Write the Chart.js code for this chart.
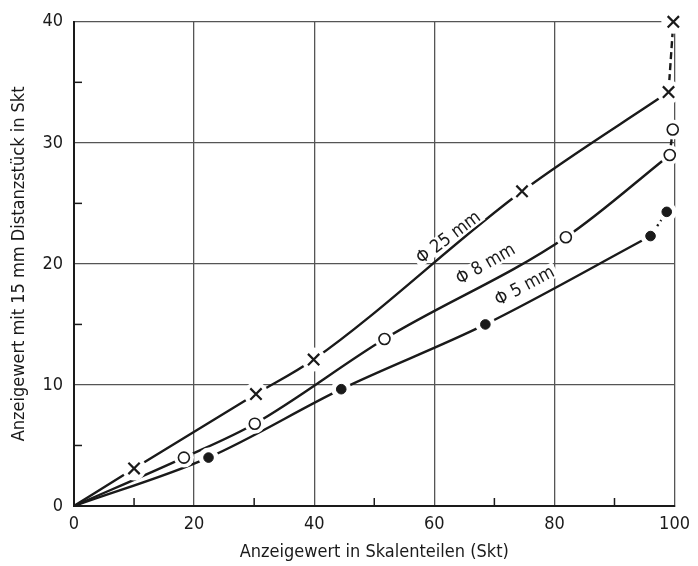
<!DOCTYPE html>
<html>
<head>
<meta charset="utf-8">
<script src="https://cdn.jsdelivr.net/npm/chart.js@4.4.0/dist/chart.umd.min.js"></script>
<style>
html, body { margin: 0; padding: 0; background: #fff; }
</style>
</head>
<body>
<canvas id="c" width="698" height="566"></canvas>
<script>
// measured points (Skt)
var x25 = [10, 30.3, 39.9, 74.6, 99.0, 99.8];
var y25 = [3.1, 9.25, 12.1, 26.0, 34.2, 40.0];
var x8 = [18.3, 30.1, 51.7, 81.9, 99.2, 99.7];
var y8 = [4.0, 6.8, 13.8, 22.2, 29.0, 31.1];
var x5 = [22.4, 44.5, 68.5, 96.0, 98.7];
var y5 = [4.0, 9.65, 15.0, 22.3, 24.3];

var seriesNames = ['\u03A6 25 mm', '\u03A6 8 mm', '\u03A6 5 mm'];
var xTicks = [0, 20, 40, 60, 80, 100];
var yTicks = [0, 10, 20, 30, 40];
var xMinor = [10, 30, 50, 70, 90];
var yMinor = [5, 15, 25, 35];

var fontFam = "'Liberation Sans Narrow', 'DejaVu Sans Condensed', sans-serif";
var ink = '#1a1a1a';

function pts(xs, ys) {
	return xs.map(function(x, i){ return {x: x, y: ys[i]}; });
}
// curve from the origin through the first n points
function curve(xs, ys, n) {
	return pts([0].concat(xs.slice(0, n)), [0].concat(ys.slice(0, n)));
}
function tail(xs, ys, n) {
	return pts(xs.slice(n - 1), ys.slice(n - 1));
}

function line(data, extra) {
	return Object.assign({
		showLine: true, borderColor: ink, borderWidth: 2.4, pointRadius: 0,
		cubicInterpolationMode: 'monotone', fill: false
	}, {data: data}, extra || {});
}

var straight = {tension: 0, cubicInterpolationMode: 'default'};

var datasets = [
	line(curve(x25, y25, 5)),
	line(tail(x25, y25, 5), Object.assign({borderDash: [7, 4]}, straight)),
	line(curve(x8, y8, 5)),
	line(tail(x8, y8, 5), straight),
	line(curve(x5, y5, 4)),
	line(tail(x5, y5, 4), Object.assign({borderDash: [2, 4]}, straight)),
	// markers; halo = radius of the white gap cut into the lines
	{label: seriesNames[0], halo: 12, data: pts(x25, y25), pointStyle: 'crossRot', pointRadius: 8, pointBorderWidth: 2.2, pointBorderColor: ink, showLine: false, clip: false},
	{label: seriesNames[1], halo: 10, data: pts(x8, y8), pointStyle: 'circle', pointRadius: 5.5, pointBorderWidth: 1.6, pointBorderColor: ink, pointBackgroundColor: '#fff', showLine: false, clip: false},
	{label: seriesNames[2], halo: 10, data: pts(x5, y5), pointStyle: 'circle', pointRadius: 4.8, pointBorderWidth: 1, pointBorderColor: ink, pointBackgroundColor: ink, showLine: false, clip: false}
];

// curve labels, placed in data coordinates
var curveLabels = [
	{text: seriesNames[0], x: 62.3, y: 22.2, angle: -37},
	{text: seriesNames[1], x: 68.5, y: 20.0, angle: -30},
	{text: seriesNames[2], x: 75.0, y: 18.2, angle: -28}
];

var extras = {
	id: 'extras',
	afterDatasetsDraw: function(chart) {
		var ctx = chart.ctx, xs = chart.scales.x, ys = chart.scales.y;
		var whole = {left: 0, top: 0, right: chart.width, bottom: chart.height};

		// cut gaps round the markers, then put the markers back on top
		chart.data.datasets.forEach(function(ds, i){
			if (!ds.halo) return;
			var meta = chart.getDatasetMeta(i);
			ctx.save();
			ctx.fillStyle = '#fff';
			meta.data.forEach(function(p){
				ctx.beginPath();
				ctx.arc(p.x, p.y, ds.halo, 0, Math.PI * 2);
				ctx.fill();
			});
			ctx.restore();
		});
		chart.data.datasets.forEach(function(ds, i){
			if (!ds.halo) return;
			chart.getDatasetMeta(i).data.forEach(function(p){
				ctx.save();
				p.draw(ctx, whole);
				ctx.restore();
			});
		});

		ctx.save();
		ctx.strokeStyle = ink;
		ctx.lineWidth = 1.5;
		xMinor.forEach(function(v){
			var px = xs.getPixelForValue(v);
			ctx.beginPath(); ctx.moveTo(px, ys.bottom); ctx.lineTo(px, ys.bottom - 8); ctx.stroke();
		});
		yMinor.forEach(function(v){
			var py = ys.getPixelForValue(v);
			ctx.beginPath(); ctx.moveTo(xs.left, py); ctx.lineTo(xs.left + 8, py); ctx.stroke();
		});

		ctx.font = '18px ' + fontFam;
		ctx.textAlign = 'center';
		ctx.textBaseline = 'middle';
		curveLabels.forEach(function(l){
			var px = xs.getPixelForValue(l.x), py = ys.getPixelForValue(l.y);
			ctx.save();
			ctx.translate(px, py);
			ctx.rotate(l.angle * Math.PI / 180);
			var w = ctx.measureText(l.text).width;
			ctx.fillStyle = '#fff';
			ctx.fillRect(-w / 2 - 3, -8, w + 6, 16);
			ctx.fillStyle = ink;
			ctx.fillText(l.text, 0, 1);
			ctx.restore();
		});
		ctx.restore();
	}
};

new Chart(document.getElementById('c'), {
	type: 'scatter',
	data: {datasets: datasets},
	options: {
		responsive: false,
		animation: false,
		events: [],
		layout: {padding: {top: 17, right: 17, left: 0, bottom: 0}},
		plugins: {legend: {display: false}, tooltip: {enabled: false}},
		scales: {
			x: {
				type: 'linear', min: 0, max: 100,
				afterBuildTicks: function(s){ s.ticks = xTicks.map(function(v){ return {value: v}; }); },
				afterFit: function(s){ s.height = 60; },
				grid: {color: '#555', lineWidth: 1.3, drawTicks: false},
				border: {color: ink, width: 2},
				ticks: {color: ink, padding: 8, font: {family: fontFam, size: 18}},
				title: {display: true, text: 'Anzeigewert in Skalenteilen (Skt)', color: ink, padding: {top: 0, bottom: 3}, font: {family: fontFam, size: 18}}
			},
			y: {
				type: 'linear', min: 0, max: 40,
				afterBuildTicks: function(s){ s.ticks = yTicks.map(function(v){ return {value: v}; }); },
				afterFit: function(s){ s.width = 74; },
				grid: {color: '#555', lineWidth: 1.3, drawTicks: false},
				border: {color: ink, width: 2},
				ticks: {color: ink, padding: 11, font: {family: fontFam, size: 18}},
				title: {display: true, text: 'Anzeigewert mit 15 mm Distanzstück in Skt', color: ink, padding: {top: 9, bottom: 0}, font: {family: fontFam, size: 18}}
			}
		}
	},
	plugins: [extras]
});
</script>
</body>
</html>
